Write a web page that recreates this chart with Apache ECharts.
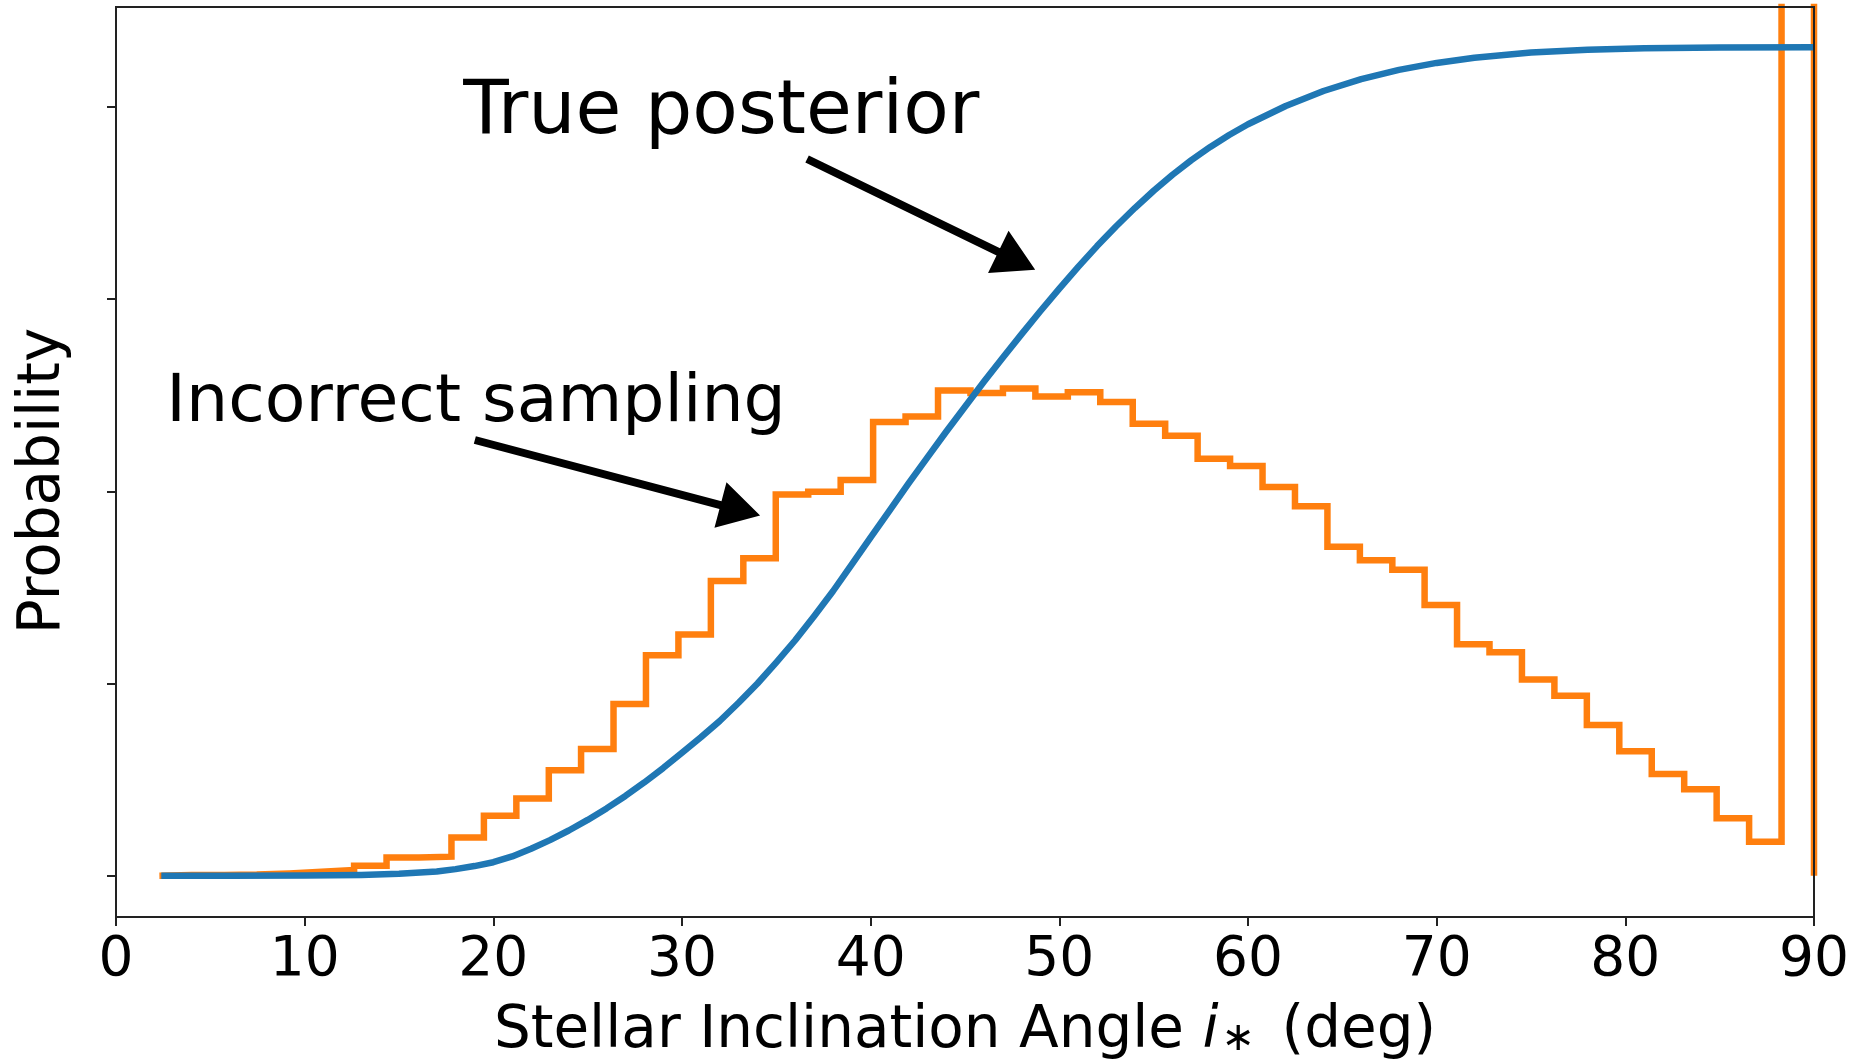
<!DOCTYPE html>
<html>
<head>
<meta charset="utf-8">
<script src="https://cdn.jsdelivr.net/npm/echarts@6/dist/echarts.min.js"></script>
<style>
html,body{margin:0;padding:0;background:#fff;}
#c{width:1870px;height:1061px;}
</style>
</head>
<body>
<div id="c"></div>
<script>
// ---------- data ----------
// histogram ("Incorrect sampling") bin edges (deg)
const binEdges = [2.30, 4.02, 5.74, 7.46, 9.18, 10.90, 12.62, 14.34, 16.06, 17.78,
  19.50, 21.22, 22.94, 24.65, 26.37, 28.09, 29.81, 31.53, 33.25, 34.97,
  36.69, 38.41, 40.13, 41.85, 43.57, 45.29, 47.01, 48.73, 50.45, 52.17,
  53.89, 55.61, 57.33, 59.05, 60.77, 62.49, 64.21, 65.93, 67.65, 69.36,
  71.08, 72.80, 74.52, 76.24, 77.96, 79.68, 81.40, 83.12, 84.84, 86.56,
  88.28, 90.00];
// histogram heights per bin (arbitrary probability units); last bin is off-scale
const binHeights = [0.003, 0.004, 0.006, 0.012, 0.020, 0.030, 0.052, 0.095, 0.099, 0.199,
  0.312, 0.402, 0.549, 0.659, 0.893, 1.147, 1.255, 1.533, 1.652, 1.983,
  1.998, 2.059, 2.361, 2.389, 2.525, 2.512, 2.535, 2.493, 2.516, 2.465,
  2.352, 2.289, 2.170, 2.132, 2.023, 1.922, 1.711, 1.641, 1.592, 1.408,
  1.204, 1.163, 1.021, 0.936, 0.784, 0.648, 0.529, 0.450, 0.299, 0.176,
  9.0];
// "True posterior" curve
const curveX = [2.4, 6, 10, 13, 15, 17, 18, 19, 20, 21, 22, 23, 24, 25, 26, 27, 28, 29, 30,
  31, 32, 33, 34, 35, 36, 37, 38, 39, 40, 41, 42, 43, 44, 45, 46, 47, 48, 49, 50,
  51, 52, 53, 54, 55, 56, 57, 58, 59, 60, 62, 64, 66, 68, 70, 72, 75, 78, 81, 85, 90];
const curveY = [0, 0, 0.001, 0.004, 0.010, 0.022, 0.034, 0.050, 0.070, 0.100, 0.140, 0.185, 0.235, 0.290, 0.350, 0.415, 0.485, 0.560, 0.640,
  0.720, 0.805, 0.900, 1.000, 1.110, 1.225, 1.350, 1.480, 1.620, 1.760, 1.900, 2.040, 2.175, 2.310, 2.440, 2.570, 2.695, 2.818, 2.938, 3.055,
  3.168, 3.276, 3.378, 3.474, 3.564, 3.647, 3.723, 3.792, 3.854, 3.910, 4.005, 4.083, 4.145, 4.193, 4.229, 4.256, 4.283, 4.298, 4.305, 4.309, 4.310];
// axis ticks
const xTicks = [0, 10, 20, 30, 40, 50, 60, 70, 80, 90];
const yTicks = [0, 1, 2, 3, 4];
// annotations (data coordinates): text anchor (left, baseline), arrow tail, arrow tip
const annTexts = ['True posterior', 'Incorrect sampling'];
const annTextX = [18.40, 2.67];
const annTextY = [3.862, 2.363];
const annTailX = [36.63, 19.02];
const annTailY = [3.729, 2.267];
const annTipX = [48.72, 34.14];
const annTipY = [3.153, 1.874];
const annFontSize = [74.5, 66.5];

// ---------- build ----------
const FONT = 'DejaVu Sans';
const histData = [[binEdges[0], 0]];
for (let i = 0; i < binHeights.length; i++) histData.push([binEdges[i], binHeights[i]]);
histData.push([binEdges[binEdges.length - 1], binHeights[binHeights.length - 1]]);
histData.push([binEdges[binEdges.length - 1], 0]);

const curveData = curveX.map((x, i) => [x, curveY[i]]);
const arrowData = annTailX.map((x, i) => [x, annTailY[i], annTipX[i], annTipY[i]]);
const textData = annTextX.map((x, i) => [x, annTextY[i]]);

const chart = echarts.init(document.getElementById('c'), null, {renderer: 'canvas'});
const axisColor = '#222';

const option = {
  animation: false,
  backgroundColor: '#fff',
  grid: {left: 116, right: 56, top: 7, bottom: 144, show: true, borderColor: axisColor, borderWidth: 2,
    backgroundColor: 'transparent', containLabel: false, outerBoundsMode: 'none', z: 10},
  xAxis: {
    type: 'value', min: xTicks[0], max: xTicks[xTicks.length - 1], interval: 10,
    axisLine: {show: true, onZero: false, lineStyle: {color: axisColor, width: 2}},
    axisTick: {show: true, length: 9, lineStyle: {color: axisColor, width: 2}},
    axisLabel: {margin: 16, fontSize: 55, fontFamily: FONT, color: '#000'},
    splitLine: {show: false},
    name: 'Stellar Inclination Angle {it|i}{sub|∗}{gap| }(deg)',
    nameLocation: 'middle', nameGap: 86,
    nameTextStyle: {fontSize: 58, fontFamily: FONT, color: '#000',
      rich: {
        it: {fontSize: 58, fontFamily: FONT, fontStyle: 'italic', color: '#000'},
        sub: {fontSize: 40, fontFamily: FONT, color: '#000', padding: [16, 0, 0, 3]},
        gap: {fontSize: 58, fontFamily: FONT, color: '#000', padding: [0, 8, 0, 0]}
      }}
  },
  yAxis: {
    type: 'value', min: -0.215, max: 4.52,
    axisLine: {show: true, onZero: false, lineStyle: {color: axisColor, width: 2}},
    axisTick: {show: true, length: 9, customValues: yTicks, lineStyle: {color: axisColor, width: 2}},
    axisLabel: {show: false},
    splitLine: {show: false},
    name: 'Probability', nameLocation: 'middle', nameRotate: 90, nameGap: 43,
    nameTextStyle: {fontSize: 58, fontFamily: FONT, color: '#000', padding: [0, 38, 0, 0]}
  },
  series: [
    {
      name: 'Incorrect sampling', type: 'line', step: 'end', data: histData,
      showSymbol: false, symbol: 'none', clip: true,
      lineStyle: {color: '#ff7f0e', width: 6.5, join: 'miter'}, z: 2
    },
    {
      name: 'True posterior', type: 'line', data: curveData, smooth: false,
      showSymbol: false, symbol: 'none', clip: true,
      lineStyle: {color: '#1f77b4', width: 6.5, join: 'round'}, z: 3
    },
    {
      type: 'custom', coordinateSystem: 'cartesian2d', clip: false, silent: true, z: 5,
      data: arrowData, encode: {x: [0, 2], y: [1, 3]},
      renderItem: function (params, api) {
        const p0 = api.coord([api.value(0), api.value(1)]);
        const p1 = api.coord([api.value(2), api.value(3)]);
        const dx = p1[0] - p0[0], dy = p1[1] - p0[1];
        const len = Math.sqrt(dx * dx + dy * dy);
        const ux = dx / len, uy = dy / len, nx = -uy, ny = ux;
        const L = 41, W = 23.5, s = 4;
        const bx = p1[0] - ux * L, by = p1[1] - uy * L;
        const pts = [
          [p0[0] + nx * s, p0[1] + ny * s],
          [bx + nx * s, by + ny * s],
          [bx + nx * W, by + ny * W],
          [p1[0], p1[1]],
          [bx - nx * W, by - ny * W],
          [bx - nx * s, by - ny * s],
          [p0[0] - nx * s, p0[1] - ny * s]
        ];
        return {type: 'polygon', shape: {points: pts}, style: {fill: '#000', stroke: null}};
      }
    },
    {
      type: 'custom', coordinateSystem: 'cartesian2d', clip: false, silent: true, z: 5,
      data: textData, encode: {x: 0, y: 1},
      renderItem: function (params, api) {
        const p = api.coord([api.value(0), api.value(1)]);
        const fs = annFontSize[params.dataIndex];
        return {
          type: 'text', x: p[0], y: p[1] - 0.27 * fs,
          style: {text: annTexts[params.dataIndex], fontSize: fs, fontFamily: FONT,
            fill: '#000', align: 'left', verticalAlign: 'middle'}
        };
      }
    }
  ]
};
chart.setOption(option);
</script>
</body>
</html>
